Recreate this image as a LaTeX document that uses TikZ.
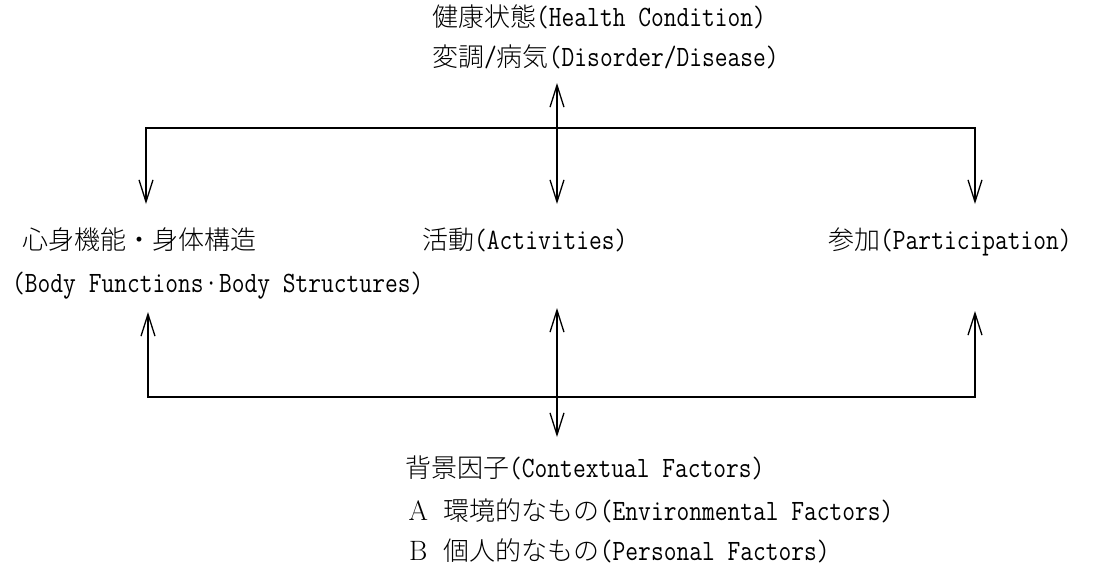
\documentclass[tikz,border=0pt]{standalone}
\usepackage{fontspec}
\IfFontExistsTF{Noto Sans CJK JP Light}
  {\newfontfamily\jp{Noto Sans CJK JP Light}}
  {\newfontfamily\jp{Noto Sans CJK JP}}
\newfontfamily\lmm{Latin Modern Mono}[FakeStretch=0.84]
\newcommand\J[1]{{\jp #1}}
\newcommand\E[1]{{\fontsize{29.5}{30}\lmm #1}}
\newcommand\FW[1]{\makebox[26pt][c]{\fontsize{28}{30}\rmfamily #1}}
\usetikzlibrary{arrows.meta}
\tikzset{
  lbl/.style={anchor=west, inner sep=0pt, text height=0.88em, text depth=0.12em,
    font=\fontsize{26}{30}\selectfont},
  barb/.tip={Straight Barb[length=22pt,width=14pt,line width=1.3pt]},
  conn/.style={line width=2pt, barb-barb},
}
\begin{document}
\begin{tikzpicture}[x=1pt,y=-1pt]
\useasboundingbox (0,0) rectangle (1112,574);
% texts
\node[lbl] (hc)  at (432,23)  {\J{健康状態}\E{(Health Condition)}};
\node[lbl] (dd)  at (432,63)  {\J{変調}\E{/}\J{病気}\E{(Disorder/Disease)}};
\node[lbl] (bf)  at (22,246)  {\J{心身機能・身体構造}};
\node[lbl] (bs)  at (12,289)  {\E{(Body Functions\makebox[0.525em]{\textperiodcentered}Body Structures)}};
\node[lbl] (act) at (422,246) {\J{活動}\E{(Activities)}};
\node[lbl] (par) at (828,246) {\J{参加}\E{(Participation)}};
\node[lbl] (cf)  at (405,474) {\J{背景因子}\E{(Contextual Factors)}};
\node[lbl] (ef)  at (405,517) {\FW{A}\E{ }\J{環境的なもの}\E{(Environmental Factors)}};
\node[lbl] (pf)  at (405,557) {\FW{B}\E{ }\J{個人的なもの}\E{(Personal Factors)}};
% connector points
\coordinate (ttop) at (557,83);
\coordinate (tbot) at (557,204);
\coordinate (tl)   at (146,128);
\coordinate (tr)   at (975,128);
\coordinate (tltip) at (146,204);
\coordinate (trtip) at (975,204);
\coordinate (btop) at (557,308);
\coordinate (bbot) at (557,437);
\coordinate (bl)   at (148,397);
\coordinate (br)   at (975,397);
\coordinate (bltip) at (148,312);
\coordinate (brtip) at (975,311);
% connectors
\draw[conn] (tltip) -- (tl) -- (tr) -- (trtip);
\draw[conn] (ttop) -- (tbot);
\draw[conn] (bltip) -- (bl) -- (br) -- (brtip);
\draw[conn] (btop) -- (bbot);
\end{tikzpicture}
\end{document}
